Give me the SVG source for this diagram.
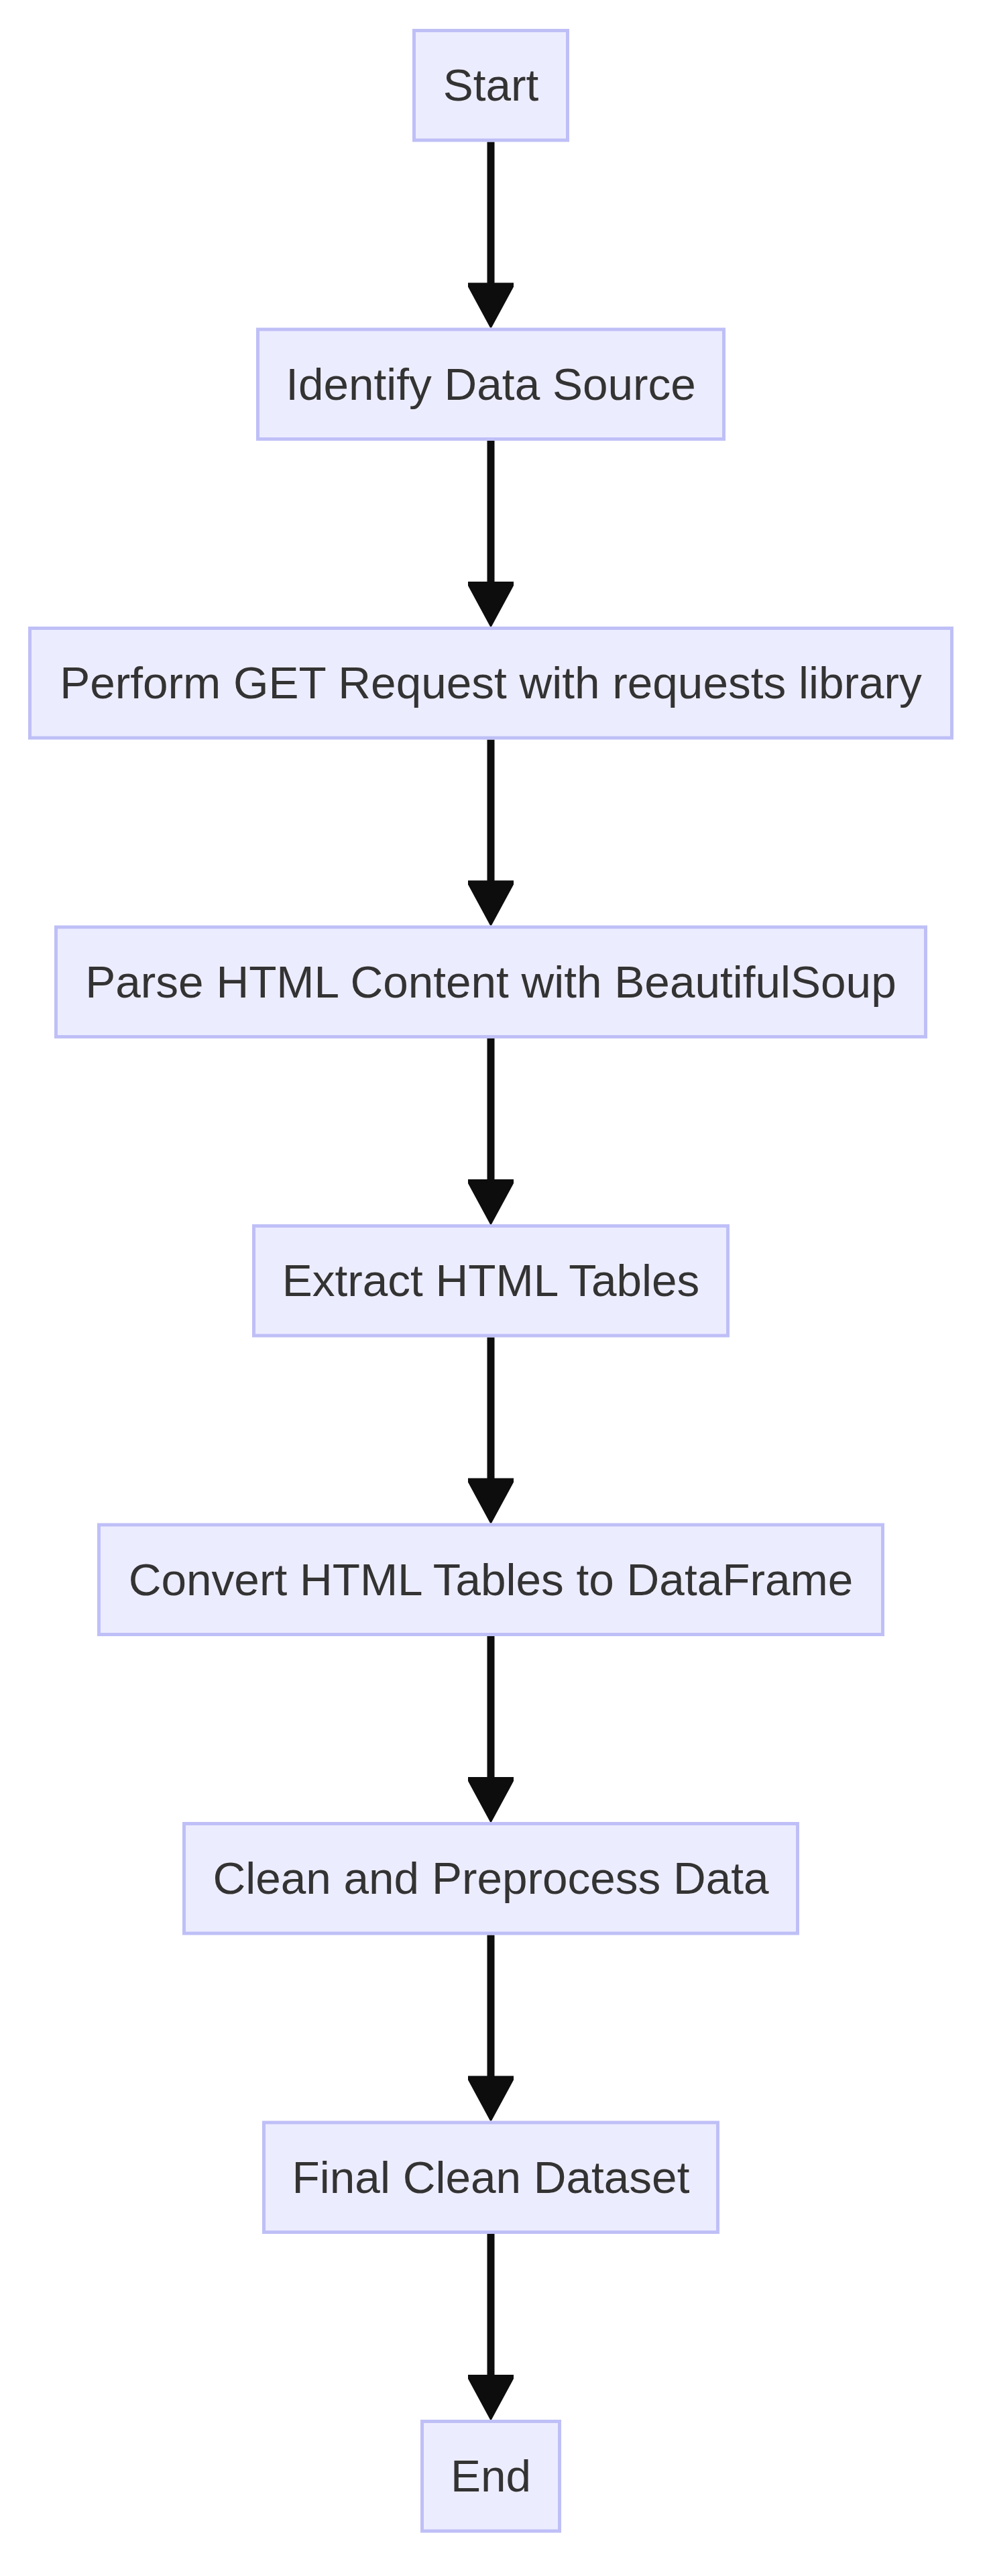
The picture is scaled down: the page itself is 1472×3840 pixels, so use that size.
<svg xmlns="http://www.w3.org/2000/svg" xmlns:xlink="http://www.w3.org/1999/xlink" width="1472" height="3840" viewBox="0 0 1472 3840">
<style>
.node rect{fill:#ececff;stroke:#bfbff7;stroke-width:5}
.node text{font-family:"Liberation Sans",Arial,sans-serif;font-size:67.5px;fill:#333333;text-anchor:middle}
.edge line{stroke:#0d0d0d;stroke-width:11}
.edge use{fill:#0d0d0d}
</style>
<defs>
<path id="ah" d="M-34,0 L34,0 L34,6 L1,67 L-1,67 L-34,6 Z"/>
</defs>
<rect x="0" y="0" width="1472" height="3840" fill="#ffffff"/>
<g id="connectors" class="edge">
<line x1="732" y1="211.5" x2="732" y2="422.5"/><use xlink:href="#ah" href="#ah" x="732" y="421.5"/>
<line x1="732" y1="657" x2="732" y2="868"/><use xlink:href="#ah" href="#ah" x="732" y="867"/>
<line x1="732" y1="1102.5" x2="732" y2="1313.5"/><use xlink:href="#ah" href="#ah" x="732" y="1312.5"/>
<line x1="732" y1="1548" x2="732" y2="1759"/><use xlink:href="#ah" href="#ah" x="732" y="1758"/>
<line x1="732" y1="1993.5" x2="732" y2="2204.5"/><use xlink:href="#ah" href="#ah" x="732" y="2203.5"/>
<line x1="732" y1="2439" x2="732" y2="2650"/><use xlink:href="#ah" href="#ah" x="732" y="2649"/>
<line x1="732" y1="2884.5" x2="732" y2="3095.5"/><use xlink:href="#ah" href="#ah" x="732" y="3094.5"/>
<line x1="732" y1="3330" x2="732" y2="3541"/><use xlink:href="#ah" href="#ah" x="732" y="3540"/>
</g>
<g id="start" class="node"><rect x="617.5" y="45.5" width="229" height="163.5"/><text x="732" y="150.25">Start</text></g>
<g id="identify" class="node"><rect x="384.5" y="491" width="695" height="163.5"/><text x="732" y="595.75">Identify Data Source</text></g>
<g id="perform" class="node"><rect x="44.5" y="936.5" width="1375" height="163.5"/><text x="732" y="1041.25">Perform GET Request with requests library</text></g>
<g id="parse" class="node"><rect x="83.5" y="1382" width="1297" height="163.5"/><text x="732" y="1486.75">Parse HTML Content with BeautifulSoup</text></g>
<g id="extract" class="node"><rect x="378.5" y="1827.5" width="707" height="163.5"/><text x="732" y="1932.25">Extract HTML Tables</text></g>
<g id="convert" class="node"><rect x="147.5" y="2273" width="1169" height="163.5"/><text x="732" y="2377.75">Convert HTML Tables to DataFrame</text></g>
<g id="clean" class="node"><rect x="274.5" y="2718.5" width="915" height="163.5"/><text x="732" y="2823.25">Clean and Preprocess Data</text></g>
<g id="final" class="node"><rect x="393.5" y="3164" width="677" height="163.5"/><text x="732" y="3268.75">Final Clean Dataset</text></g>
<g id="end" class="node"><rect x="629.5" y="3609.5" width="205" height="163.5"/><text x="732" y="3714.25">End</text></g>
</svg>
